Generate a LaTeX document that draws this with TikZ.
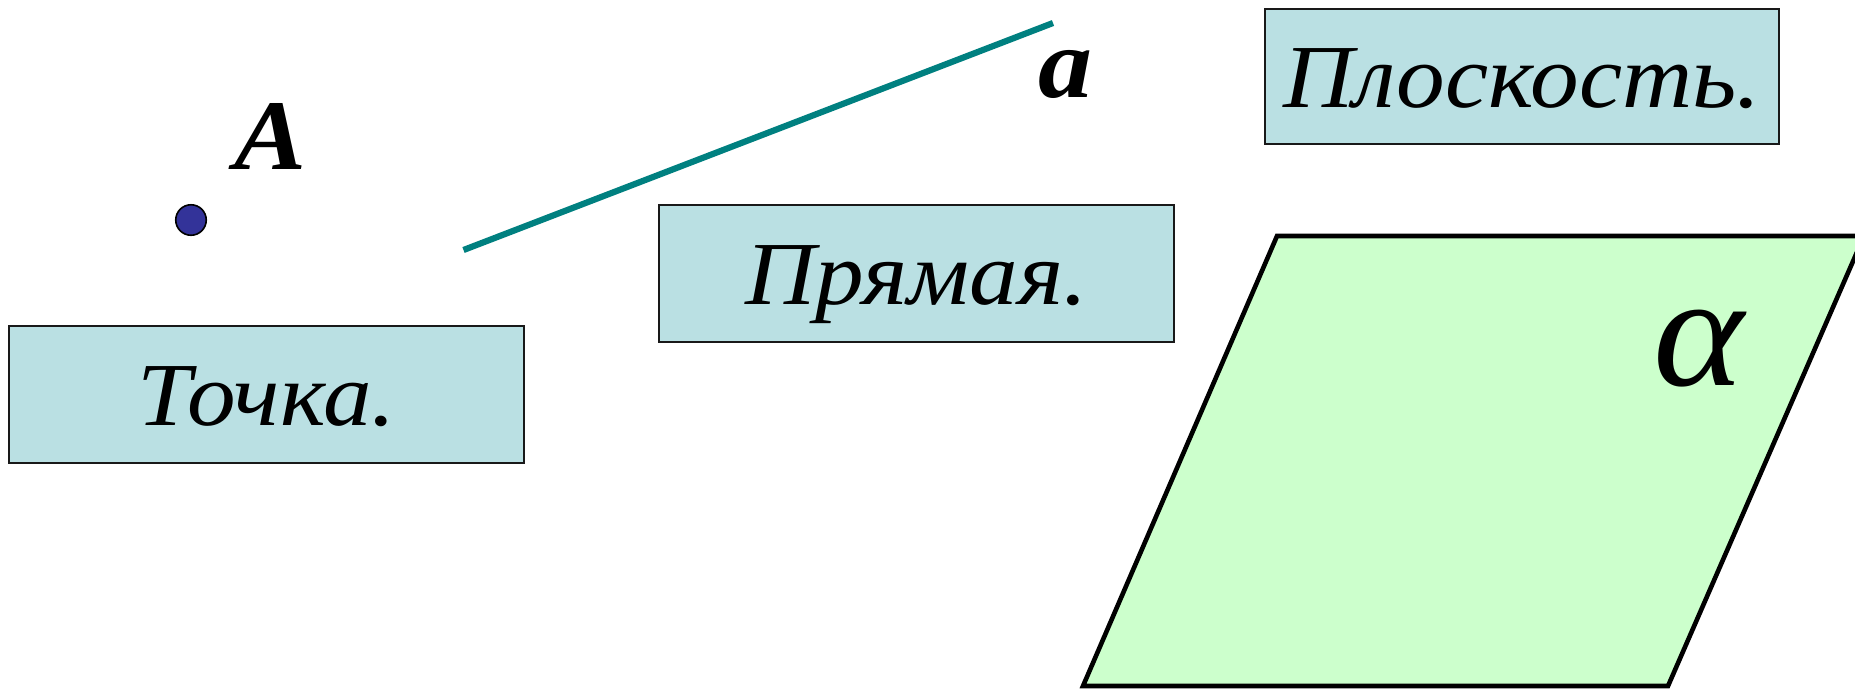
\documentclass[tikz,border=0pt]{standalone}
\usepackage{fontspec}
\setmainfont[FakeStretch=1.08]{Liberation Serif}
\definecolor{boxfill}{RGB}{186,224,227}
\definecolor{lineteal}{RGB}{0,128,128}
\definecolor{dotblue}{RGB}{51,51,153}
\definecolor{planegreen}{RGB}{204,255,204}
\tikzset{
  labelbox/.style={draw=black!90, line width=2.2pt, fill=boxfill, minimum width=#1, minimum height=137pt,
    inner sep=0pt, text height=61pt, text depth=0pt, font=\fontsize{90}{90}\selectfont\itshape},
  letter/.style={inner sep=0pt, anchor=base, font=\fontsize{100}{100}\selectfont\bfseries\itshape},
}
\begin{document}
\begin{tikzpicture}[x=1pt,y=-1pt]
\useasboundingbox (0,0) rectangle (1855,689);
\begin{scope}
\clip (0,0) rectangle (1855,689);
% plane
\coordinate (p1) at (1277,236);
\coordinate (p2) at (1864,236);
\coordinate (p3) at (1668,686);
\coordinate (p4) at (1083,686);
\draw[line width=4.6pt, fill=planegreen, line join=miter] (p1) -- (p2) -- (p3) -- (p4) -- cycle;
\end{scope}
\node[inner sep=0pt, anchor=base, font=\fontsize{160}{160}\selectfont\itshape] (alpha) at (1699,385) {α};
% boxes
\node[labelbox=515pt] (tochka) at (266.5,394.5) {Точка.};
\node[labelbox=515pt] (pryam) at (916.5,273.5) {Прямая.};
\node[labelbox=514pt, minimum height=135pt] (plosk) at (1522,76.5) {Плоскость.};
% point A
\node[circle, draw=black, line width=1.6pt, fill=dotblue, minimum size=30.5pt, inner sep=0pt] (dotA) at (191,220) {};
\node[letter] (labA) at (271,169) {A};
% line a
\coordinate (l1) at (463.5,250);
\coordinate (l2) at (1053,23);
\draw[lineteal, line width=6.2pt] (l1) -- (l2);
\node[letter] (laba) at (1065,97) {a};
\end{tikzpicture}
\end{document}
